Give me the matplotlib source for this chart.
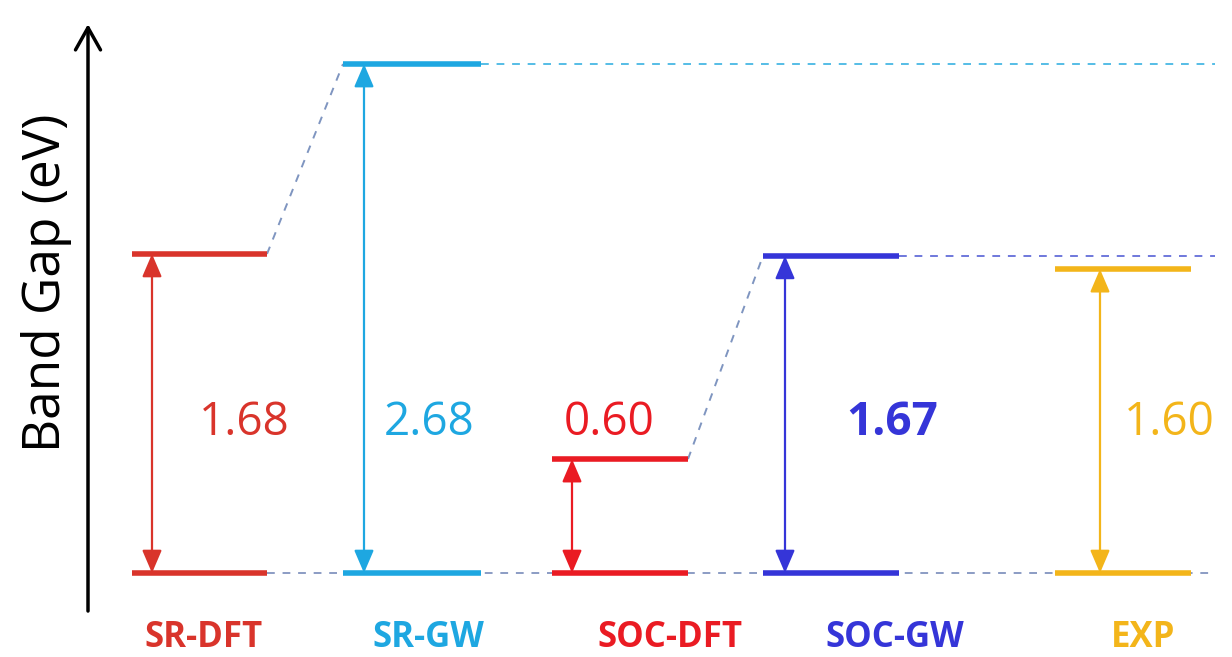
import matplotlib.pyplot as plt

plt.rcParams['font.family'] = ['Open Sans', 'DejaVu Sans']

# data
methods = ['SR-DFT', 'SR-GW', 'SOC-DFT', 'SOC-GW', 'EXP']
gaps = [1.68, 2.68, 0.60, 1.67, 1.60]
gap_labels = ['1.68', '2.68', '0.60', '1.67', '1.60']
colors = ['#d9342b', '#1ea7e1', '#ea1b23', '#3535d8', '#f3b51a']

# layout (horizontal units ~ pixels of the original)
left = [132, 343, 552, 763, 1055]
width = [135, 138, 136, 136, 136]
arrow_x = [152, 364, 572, 785, 1100]
label_x = [244, 429, 609, 892, 1169]
label_bold = [False, False, False, True, False]
cat_x = [204, 428, 670, 895, 1143]

fig = plt.figure(figsize=(12.32, 6.57), dpi=100)
ax = fig.add_axes([0, 0, 1, 1])
ax.set_xlim(0, 1232)
ax.set_ylim(-0.442, 3.017)
ax.axis('off')

dash = dict(lw=1.4, dashes=(4, 4))
right_end = 1215
# baseline dashed line
ax.plot([left[0] + width[0], right_end], [0, 0], color='#8b9cc4', zorder=1, **dash)
# dashed guide lines at the GW levels
ax.plot([left[1] + width[1], right_end], [gaps[1], gaps[1]], color='#55bde6', zorder=1, **dash)
ax.plot([left[3] + width[3], right_end], [gaps[3], gaps[3]], color='#6f78dc', zorder=1, **dash)
# slanted connectors DFT -> GW
ax.plot([left[0] + width[0], left[1]], [gaps[0], gaps[1]], color='#7f95c0', zorder=1, **dash)
ax.plot([left[2] + width[2], left[3]], [gaps[2], gaps[3]], color='#7f95c0', zorder=1, **dash)

for i, m in enumerate(methods):
    c = colors[i]
    x0, x1 = left[i], left[i] + width[i]
    ax.plot([x0, x1], [0, 0], color=c, lw=4, solid_capstyle='butt', zorder=3)
    ax.plot([x0, x1], [gaps[i], gaps[i]], color=c, lw=4, solid_capstyle='butt', zorder=3)
    ax.annotate('', xy=(arrow_x[i], gaps[i]), xytext=(arrow_x[i], 0),
                arrowprops=dict(arrowstyle='<|-|>,head_length=0.7,head_width=0.3',
                                color=c, lw=1.6, shrinkA=0, shrinkB=0,
                                mutation_scale=20), zorder=2)
    ax.text(label_x[i], 0.727, gap_labels[i], color=c, fontsize=33,
            fontweight='bold' if label_bold[i] else 'normal',
            ha='center', va='baseline')
    ax.text(cat_x[i], -0.39, m, color=c, fontsize=25, fontweight='bold',
            ha='center', va='baseline')

# y axis arrow
ax.annotate('', xy=(88, 2.89), xytext=(88, -0.2),
            arrowprops=dict(arrowstyle='->,head_length=0.8,head_width=0.45',
                            color='black', lw=2.5, shrinkA=0, shrinkB=0,
                            mutation_scale=20))
ax.text(47, 1.527, 'Band Gap (eV)', rotation=90, fontsize=37,
        ha='center', va='center', color='black')

fig.savefig('out.png', dpi=100)
